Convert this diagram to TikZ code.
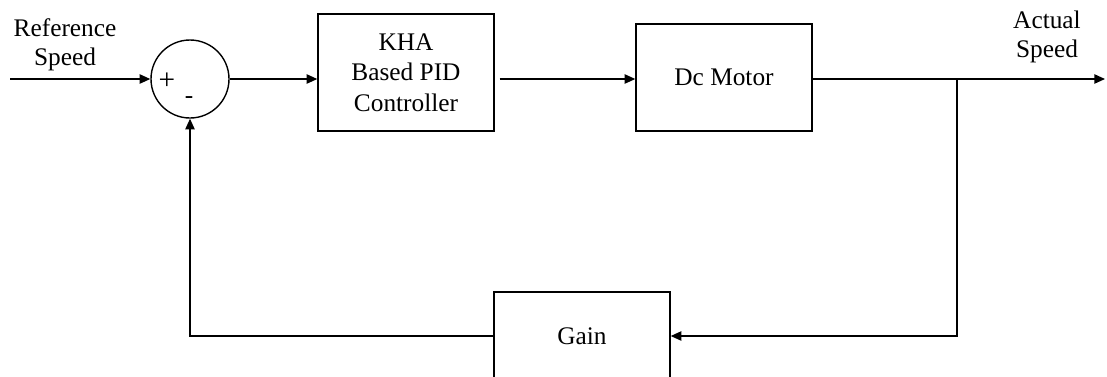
\documentclass[tikz,border=0pt]{standalone}
\usepackage{fontspec}
\setmainfont{Liberation Serif}
\usetikzlibrary{arrows.meta,calc}

\begin{document}
\begin{tikzpicture}[x=.75pt,y=-.75pt,
        line width=1.05pt,
        block/.style={draw, minimum width=132pt, inner sep=0pt, align=center,
                      font=\fontsize{19}{23}\selectfont},
        sum node/.style={draw, circle, minimum size=58.5pt, inner sep=0pt},
        sig label/.style={align=center, font=\fontsize{19}{21.5}\selectfont},
        sig/.style={-{Triangle[length=8pt,width=7pt]}}]
        \useasboundingbox (0,0) rectangle (1107,376);
        \clip (0,0) rectangle (1107,376);

        % blocks
        \node[sum node] (sum) at (190,79) {};
        \node[font=\fontsize{22}{22}\selectfont\mdseries] (plus)  at ($(sum)+(-23,2)$)  {+};
        \node[font=\fontsize{19}{19}\selectfont] (minus) at ($(sum)+(-1,21)$) {-};
        \node[block, minimum height=87.75pt] (pid)   at (406,72.5) {KHA\\Based PID\\Controller};
        \node[block, minimum height=80.25pt] (motor) at (724,77.5) {Dc Motor};
        \node[block, minimum height=66pt]    (gain)  at (582,336)  {Gain};

        % signal labels
        \node[sig label] (ref) at (65,45)  {Reference\\Speed};
        \node[sig label] (act) at (1047,37) {Actual\\Speed};

        \coordinate (in)    at (10,79);
        \coordinate (out)   at (1105,79);
        \coordinate (split) at (957,79);

        % forward path
        \draw[sig] (in) -- (sum.west);
        \draw[sig] (sum.east) -- (sum.east -| pid.west);
        \draw[sig] ($(sum.east -| pid.east)+(5,0)$) -- (sum.east -| motor.west);
        \draw[sig] (sum.east -| motor.east) -- (out);

        % feedback path
        \draw[sig] (split) |- (gain.east);
        \draw[sig] (gain.west) -| (sum.south);
\end{tikzpicture}
\end{document}
